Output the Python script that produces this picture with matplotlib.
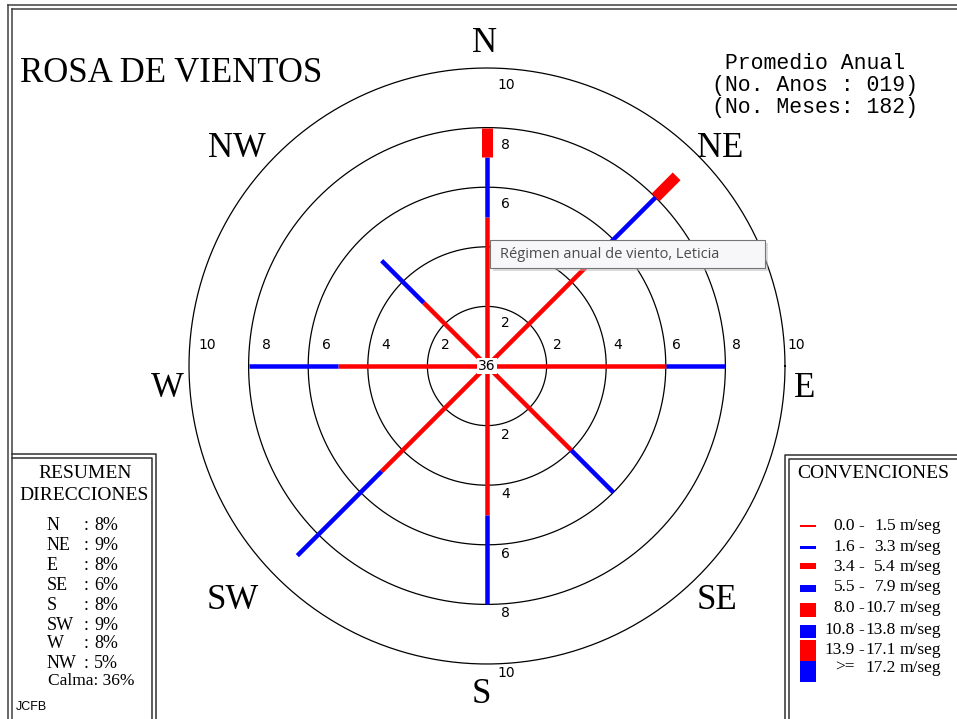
import numpy as np
import matplotlib
matplotlib.use('Agg')
import matplotlib.pyplot as plt
from matplotlib.patches import Rectangle

# datos de la rosa de vientos (frecuencia %, por clase de velocidad)
direcciones = ['N', 'NE', 'E', 'SE', 'S', 'SW', 'W', 'NW']
angulos = [90, 45, 0, -45, -90, -135, 180, 135]
clase1 = [5.0, 5.2, 6.0, 4.0, 5.0, 5.0, 5.0, 3.0]   # 0.0 - 1.5 m/seg
clase2 = [2.0, 2.8, 2.0, 2.0, 3.0, 4.0, 3.0, 2.0]   # 1.6 - 3.3 m/seg
clase3 = [1.0, 1.0, 0.0, 0.0, 0.0, 0.0, 0.0, 0.0]   # 3.4 - 5.4 m/seg
resumen = [8, 9, 8, 6, 8, 9, 8, 5]
calma = 36
anillos = [2, 4, 6, 8, 10]

lim_bajo = ['0.0', '1.6', '3.4', '5.5', '8.0', '10.8', '13.9', '>=']
lim_alto = ['1.5', '3.3', '5.4', '7.9', '10.7', '13.8', '17.1', '17.2']

ROJO = '#ff0000'
AZUL = '#0000ff'
colores = [ROJO, AZUL] * 4
anchos_px = [4.5, 4.5, 11, 12, 14, 16, 20, 20]

W, H = 957, 719
CX, CY, SC = 487, 366, 29.8


def P(x, y):
    # pixel de la imagen -> coordenadas de datos
    return (x - CX) / SC, (CY - y) / SC


fig = plt.figure(figsize=(W / 100, H / 100), dpi=100)
ax = fig.add_axes([0, 0, 1, 1])
ax.set_xlim((0 - CX) / SC, (W - CX) / SC)
ax.set_ylim((CY - H) / SC, CY / SC)
ax.axis('off')

serif = 'Liberation Serif'
mono = 'Liberation Mono'

# marco general
for xx in [8, 12]:
    ax.plot(*zip(P(xx, 5 if xx == 8 else 9), P(xx, H)), color='#404040', lw=1.1)
for yy in [5, 9]:
    ax.plot(*zip(P(8 if yy == 5 else 12, yy), P(W, yy)), color='#404040', lw=1.1)

# anillos
t = np.linspace(0, 2 * np.pi, 400)
for r in anillos:
    ax.plot(r * np.cos(t), r * np.sin(t), color='black', lw=0.9, zorder=1)

# brazos
clases = [clase1, clase2, clase3]
for i, ang in enumerate(angulos):
    a = np.deg2rad(ang)
    r0 = 0
    for k, c in enumerate(clases):
        v = c[i]
        if v <= 0:
            continue
        r1 = r0 + v
        ax.plot([r0 * np.cos(a), r1 * np.cos(a)], [r0 * np.sin(a), r1 * np.sin(a)],
                color=colores[k], lw=anchos_px[k] * 0.72, solid_capstyle='butt', zorder=2)
        r0 = r1

# etiquetas de anillos (el 4 del norte queda tapado por el tooltip)
lab = dict(fontsize=10, family='Liberation Sans Narrow', ha='center', va='center', zorder=3)
for r in anillos:
    if r != 4:
        ax.text(0.63, r - 0.57, str(r), **lab)
    ax.text(0.63, -(r + 0.3), str(r), **lab)
    ax.text(r + 0.37, 0.7, str(r), **lab)
    ax.text(-r + 0.6, 0.7, str(r), **lab)

ax.text(0, 0, str(calma), fontsize=10, family='Liberation Sans Narrow', ha='center', va='center',
        zorder=4, bbox=dict(boxstyle='square,pad=0.05', fc='white', ec='none'))

# puntos cardinales
pos_dir = {'N': (484, 52), 'NE': (720, 157), 'E': (805, 397), 'SE': (717, 609),
           'S': (481, 703), 'SW': (233, 609), 'W': (167, 397), 'NW': (237, 157)}
for d in direcciones:
    ax.text(*P(*pos_dir[d]), d, fontsize=25, family=serif, ha='center', va='baseline')

# titulo
ax.text(*P(20, 82), 'ROSA DE VIENTOS', fontsize=25, family=serif, ha='left', va='baseline')

# encabezado
ax.text(*P(712, 69), ' Promedio Anual', fontsize=15.5, family=mono, ha='left', va='baseline')
ax.text(*P(712, 91), '(No. Anos : 019)', fontsize=15.5, family=mono, ha='left', va='baseline')
ax.text(*P(712, 113), '(No. Meses: 182)', fontsize=15.5, family=mono, ha='left', va='baseline')

# caja resumen
for y0, x1 in [(454, 156), (458, 152)]:
    ax.plot(*zip(P(12, y0), P(x1, y0), P(x1, H)), color='#303030', lw=1.1)
ax.text(*P(85, 473), 'RESUMEN', fontsize=14, family=serif, ha='center', va='center')
ax.text(*P(84, 496), 'DIRECCIONES', fontsize=14, family=serif, ha='center', va='center')
filas_y = [525, 546, 566, 586, 606, 625, 644, 663]
for d, p, yy in zip(direcciones, resumen, filas_y):
    ax.text(*P(47, yy), d, fontsize=13, family=serif, ha='left', va='center')
    ax.text(*P(86, yy), ':', fontsize=13, family=serif, ha='center', va='center')
    ax.text(*P(94, yy), f'{p}%', fontsize=13, family=serif, ha='left', va='center')
ax.text(*P(48, 681), f'Calma: {calma}%', fontsize=12.5, family=serif, ha='left', va='center')
ax.text(*P(16, 707), 'JCFB', fontsize=9, family='Liberation Sans', ha='left', va='center')

# caja convenciones
for x0, y0 in [(785, 455), (789, 459)]:
    ax.plot(*zip(P(x0, H), P(x0, y0), P(W, y0)), color='#303030', lw=1.1)
ax.text(*P(797, 474), 'CONVENCIONES', fontsize=14, family=serif, ha='left', va='center')
sw_y = [(525, 527), (546, 549), (563, 569), (585, 592), (603, 617), (625, 638), (640, 661), (661, 682)]
txt_y = [526, 547, 567, 587, 608, 630, 650, 668]
for k in range(8):
    ya, yb = sw_y[k]
    x0, y0 = P(800, yb)
    ax.add_patch(Rectangle((x0, y0), 16 / SC, (yb - ya) / SC, fc=colores[k], ec='none'))
    ty = txt_y[k]
    ax.text(*P(855, ty), lim_bajo[k], fontsize=12.5, family=serif, ha='right', va='center')
    if lim_bajo[k] != '>=':
        ax.text(*P(861, ty), '-', fontsize=12.5, family=serif, ha='center', va='center')
    ax.text(*P(896, ty), lim_alto[k], fontsize=12.5, family=serif, ha='right', va='center')
    ax.text(*P(900, ty), 'm/seg', fontsize=12.5, family=serif, ha='left', va='center')

# tooltip
sx, sy = P(493, 271)
ax.add_patch(Rectangle((sx, sy), 275 / SC, 28 / SC, fc='#bbbbbb', ec='none', alpha=0.5, zorder=5))
bx, by = P(490, 268)
ax.add_patch(Rectangle((bx, by), 275 / SC, 28 / SC, fc='#f7f7f9', ec='#767676', lw=0.8, zorder=6))
ax.text(*P(500, 254), 'Régimen anual de viento, Leticia', fontsize=10.5, family='Open Sans',
        color='#4c4c4c', ha='left', va='center', zorder=7)

fig.savefig('out.png', dpi=100)
